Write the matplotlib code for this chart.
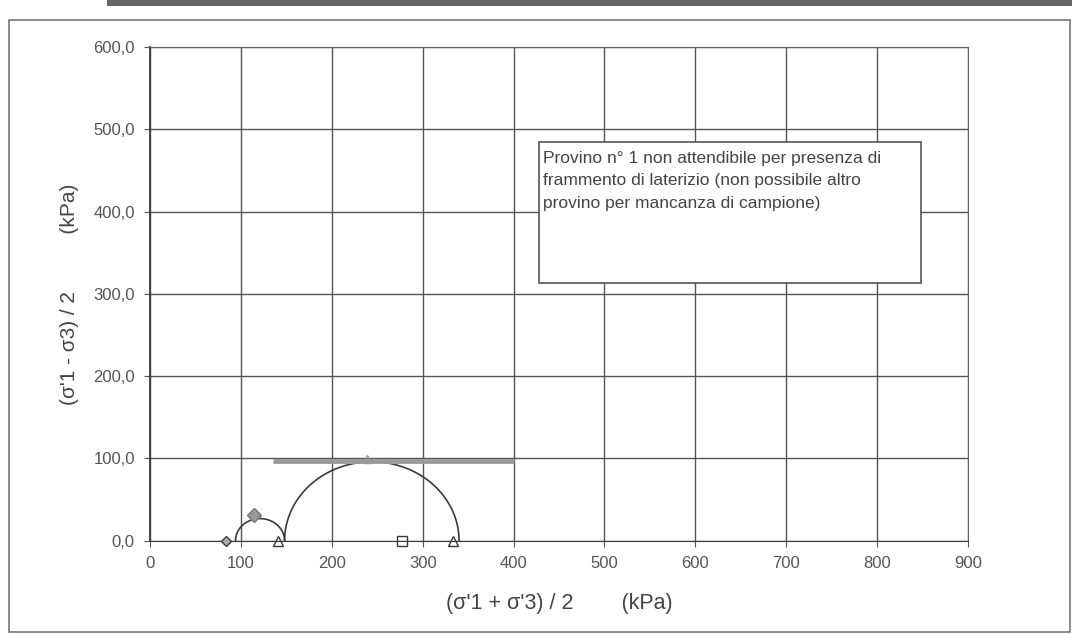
import numpy as np
import matplotlib
matplotlib.use("Agg")
import matplotlib.pyplot as plt
from matplotlib.ticker import FuncFormatter

plt.rcParams['font.family'] = ['Liberation Sans', 'DejaVu Sans']

# Mohr circles (s' centre, t radius) in kPa
centres = [121, 244]
radii = [27, 96]

# points on the s' axis
axis_diamond_x = [84]
axis_tri_x = [141, 333]
axis_square_x = [277]

# points at top of circles
top_diamond = (114, 31)
top_tri = (239, 99)

# failure envelope line
env_x = [135, 400]
env_y = [97, 97]

note = ("Provino n° 1 non attendibile per presenza di\n"
        "frammento di laterizio (non possibile altro\n"
        "provino per mancanza di campione)")

ink = "#3a3a3a"

fig = plt.figure(figsize=(10.72, 6.34), dpi=100)
ax = fig.add_axes([0.140, 0.147, 0.763, 0.779])

for c, r in zip(centres, radii):
    th = np.linspace(0, np.pi, 300)
    ax.plot(c + r * np.cos(th), r * np.sin(th), color=ink, lw=1.2, zorder=4)

ax.plot(env_x, env_y, color="#9a9a9a", lw=3.5, solid_capstyle="butt", zorder=4)

mk = dict(ls="none", clip_on=False, zorder=5)
ax.plot(axis_diamond_x, [0], marker="D", ms=5, mfc="#aaaaaa", mec=ink, **mk)
ax.plot(axis_tri_x, [0, 0], marker="^", ms=7, mfc="none", mec=ink, **mk)
ax.plot(axis_square_x, [0], marker="s", ms=7, mfc="none", mec=ink, **mk)
ax.plot(*top_diamond, marker="D", ms=7, mfc="#999999", mec="#777777", **mk)
ax.plot(*top_tri, marker="^", ms=6, mfc="none", mec="#999999", **mk)

ax.set_xlim(0, 900)
ax.set_ylim(0, 600)
ax.set_xticks(np.arange(0, 901, 100))
ax.set_yticks(np.arange(0, 601, 100))
ax.yaxis.set_major_formatter(FuncFormatter(lambda v, p: f"{v:.1f}".replace(".", ",")))
ax.grid(True, color="#555555", lw=1.0)
ax.set_axisbelow(True)
ax.tick_params(colors="#555555", labelsize=12, length=4, direction="out", pad=7)
for t in ax.get_xticklabels() + ax.get_yticklabels():
    t.set_color("#555555")

ax.spines["left"].set_color(ink)
ax.spines["left"].set_linewidth(1.3)
ax.spines["bottom"].set_linestyle((0, (1, 1)))
ax.spines["bottom"].set_color(ink)
for s in ("top", "right"):
    ax.spines[s].set_linestyle((0, (1, 1)))
    ax.spines[s].set_color("#666666")

ax.set_xlabel("(σ'1 + σ'3) / 2        (kPa)", fontsize=15.5, color="#444444", labelpad=16)
ax.set_ylabel("(σ'1 - σ3) / 2          (kPa)", fontsize=15, color="#444444", labelpad=10)

box = plt.Rectangle((428, 313), 420, 171, fc="white", ec="#555555", lw=1.2, zorder=3)
ax.add_patch(box)
ax.text(432, 474, note, fontsize=12.5, color="#444444", va="top", ha="left",
        linespacing=1.65, zorder=4)

# outer chart frame
fig.patches.append(plt.Rectangle((0.008, 0.003), 0.99, 0.965, transform=fig.transFigure,
                                 fill=False, ec="#777777", lw=1.2))
fig.patches.append(plt.Rectangle((0.10, 0.99), 0.9, 0.01, transform=fig.transFigure,
                                 fc="#666666", ec="none"))

fig.savefig("out.png", dpi=100)
